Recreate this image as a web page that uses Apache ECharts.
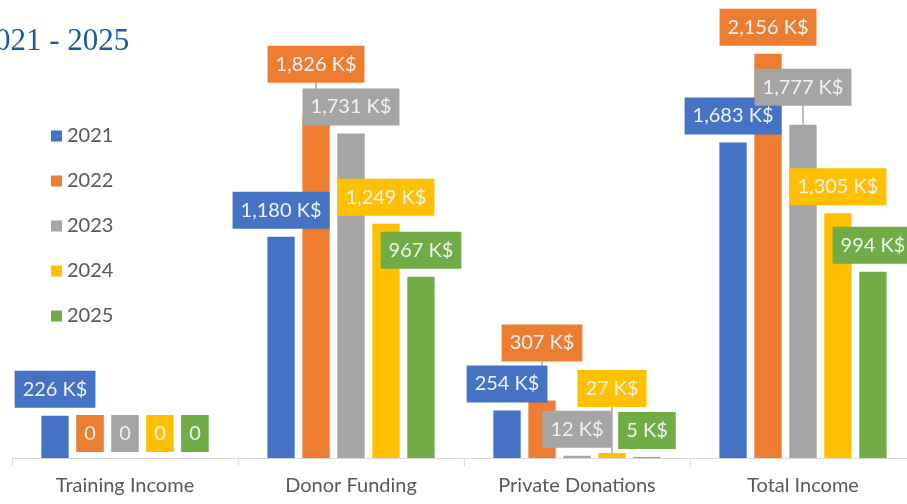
<!DOCTYPE html>
<html>
<head>
<meta charset="utf-8">
<script src="https://cdn.jsdelivr.net/npm/echarts@6/dist/echarts.min.js"></script>
<style>
html, body { margin: 0; padding: 0; background: #fff; }
#chart { width: 907px; height: 504px; }
</style>
</head>
<body>
<div id="chart"></div>
<script>
var categories = ['Training Income', 'Donor Funding', 'Private Donations', 'Total Income'];
var years = ['2021', '2022', '2023', '2024', '2025'];
var values2021 = [226, 1180, 254, 1683];
var values2022 = [0, 1826, 307, 2156];
var values2023 = [0, 1731, 12, 1777];
var values2024 = [0, 1249, 27, 1305];
var values2025 = [0, 967, 5, 994];

var allValues = [values2021, values2022, values2023, values2024, values2025];
var colors = ['#4472C4', '#ED7D31', '#A5A5A5', '#FFC000', '#70AD47'];

// callouts pulled up above their neighbours: series index, category index, shift
var pulledUp = [[1, 1, -25], [1, 2, -31], [3, 2, -38], [2, 3, -11]];

function findShift(s, d) {
	for (var i = 0; i < pulledUp.length; i++) {
		if (pulledUp[i][0] === s && pulledUp[i][1] === d) return pulledUp[i][2];
	}
	return null;
}

function fmt(v) {
	if (v === 0) return '0';
	return v.toLocaleString('en-US') + ' K$';
}

var chart = echarts.init(document.getElementById('chart'));

var series = [];
for (var s = 0; s < years.length; s++) {
	var data = [];
	for (var d = 0; d < categories.length; d++) {
		var item = { value: allValues[s][d] };
		if (findShift(s, d) !== null) {
			item.labelLine = { show: true };
		}
		data.push(item);
	}
	series.push({
		name: years[s],
		type: 'bar',
		barGap: '28%',
		barCategoryGap: '26%',
		itemStyle: { color: colors[s] },
		data: data,
		label: {
			show: true,
			position: 'top',
			distance: 8,
			formatter: function (p) { return fmt(p.value); },
			backgroundColor: colors[s],
			color: '#f2f2f2',
			fontFamily: 'Lato',
			fontSize: 20,
			lineHeight: 23,
			padding: [7, 8]
		},
		labelLine: {
			show: false,
			lineStyle: { color: '#a6a6a6', width: 1.5 }
		},
		labelLayout: function (p) {
			var sh = findShift(p.seriesIndex, p.dataIndex);
			if (sh !== null) return { dy: sh };
			if (allValues[p.seriesIndex][p.dataIndex] === 0) return { dy: 2 };
			return {};
		}
	});
}

var option = {
	animation: false,
	title: {
		text: '021 - 2025',
		left: -5,
		top: 26,
		padding: 0,
		textStyle: {
			fontFamily: 'Liberation Serif',
			fontSize: 31,
			fontWeight: 'normal',
			color: '#1a5c9c'
		}
	},
	legend: {
		data: years,
		orient: 'vertical',
		left: 46,
		top: 121,
		icon: 'rect',
		itemWidth: 11,
		itemHeight: 11,
		itemGap: 25,
		textStyle: {
			fontFamily: 'Lato',
			fontSize: 20,
			lineHeight: 20,
			color: '#595959'
		}
	},
	grid: {
		left: 12,
		right: -9,
		top: 8,
		bottom: 46,
		containLabel: false,
		outerBoundsMode: 'none'
	},
	xAxis: {
		type: 'category',
		data: categories,
		axisLine: { lineStyle: { color: '#d9d9d9', width: 1 } },
		axisTick: { show: true, length: 8, lineStyle: { color: '#d9d9d9' } },
		axisLabel: {
			fontFamily: 'Lato',
			fontSize: 20,
			color: '#595959',
			margin: 18
		}
	},
	yAxis: {
		type: 'value',
		min: 0,
		max: 2400,
		show: false,
		splitLine: { show: false }
	},
	series: series
};

chart.setOption(option);
</script>
</body>
</html>
